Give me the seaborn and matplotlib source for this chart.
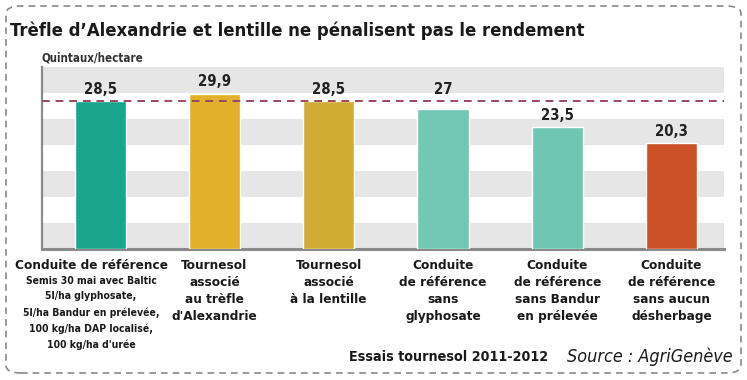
import matplotlib
matplotlib.use("Agg")
import matplotlib.pyplot as plt
import seaborn as sns
import pandas as pd
from matplotlib.patches import FancyBboxPatch
from matplotlib.transforms import blended_transform_factory

# ---- data ----
categories = [
    "Conduite de référence",
    "Tournesol\nassocié\nau trèfle\nd'Alexandrie",
    "Tournesol\nassocié\nà la lentille",
    "Conduite\nde référence\nsans\nglyphosate",
    "Conduite\nde référence\nsans Bandur\nen prélevée",
    "Conduite\nde référence\nsans aucun\ndésherbage",
]
first_detail = ("Semis 30 mai avec Baltic\n5l/ha glyphosate,\n5l/ha Bandur en prélevée,\n"
                "100 kg/ha DAP localisé,\n100 kg/ha d'urée")
values = [28.5, 29.9, 28.5, 27.0, 23.5, 20.3]
value_labels = ["28,5", "29,9", "28,5", "27", "23,5", "20,3"]
colors = ["#1aa58e", "#e2b02b", "#d1ac33", "#72c8b2", "#6ec6b3", "#cc5128"]
reference_value = 28.5
title = "Trèfle d’Alexandrie et lentille ne pénalisent pas le rendement"
ylabel = "Quintaux/hectare"
footer = "Essais tournesol 2011-2012"
source = "Source : AgriGenève"

sns.set_theme(style="white")
plt.rcParams['font.family'] = ['DejaVu Sans']
plt.rcParams['font.stretch'] = 'condensed'

W, H = 747, 380
fig = plt.figure(figsize=(W / 100, H / 100), dpi=100)
fig.patch.set_facecolor("white")
renderer = fig.canvas.get_renderer()


def fit_size(text, target_px, weight="bold", style="normal"):
    t = fig.text(0, 0, text, fontsize=10, fontweight=weight, fontstyle=style,
                 fontstretch="condensed")
    w = t.get_window_extent(renderer).width
    t.remove()
    return 10 * target_px / w


ax = fig.add_axes([42 / W, 1 - 249 / H, (724 - 42) / W, (249 - 67) / H])

df = pd.DataFrame({"cat": [str(i) for i in range(len(values))], "val": values})
sns.barplot(data=df, x="cat", y="val", hue="cat", palette=colors, legend=False,
            width=0.45, ax=ax, zorder=3, saturation=1)

# bands
for lo in range(0, 35, 10):
    ax.axhspan(lo, lo + 5, color="#e6e6e6", zorder=0, lw=0)

ax.set_ylim(0, 35)
ax.set_xlim(-0.51, 5.46)
ax.set_xticks([])
ax.set_yticks([])
ax.set_xlabel("")
ax.set_ylabel("")
for s in ["top", "right"]:
    ax.spines[s].set_visible(False)
ax.spines["left"].set_color("#8a8a8a")
ax.spines["left"].set_linewidth(1.6)
ax.spines["bottom"].set_color("#8a8a8a")
ax.spines["bottom"].set_linewidth(2.2)
ax.set_facecolor("white")

ax.axhline(reference_value, color="#9a4a5c", lw=1.4, ls=(0, (4, 3)), zorder=4)

val_fs = fit_size("28,5", 33)
for i, (v, lab) in enumerate(zip(values, value_labels)):
    y = v
    if v < reference_value and reference_value - v < 3:
        y = reference_value
    ax.annotate(lab, (i, y), xytext=(0, 3), textcoords="offset points",
                ha="center", va="bottom", fontsize=val_fs, fontweight="bold",
                color="#222222", zorder=5)

# category labels
cat_fs = fit_size("Conduite de référence", 152)
det_fs = fit_size("Semis 30 mai avec Baltic", 130)
tr = blended_transform_factory(ax.transData, fig.transFigure)
for i, c in enumerate(categories):
    xi = i - 0.08 if i == 0 else i
    ax.text(xi, 1 - 259 / H, c, transform=tr, ha="center", va="top",
            fontsize=cat_fs, fontweight="bold", color="#1a1a1a",
            linespacing=1.4, clip_on=False)
ax.text(-0.08, 1 - 276 / H, first_detail, transform=tr, ha="center", va="top",
        fontsize=det_fs, fontweight="bold", color="#1a1a1a", linespacing=1.68,
        clip_on=False)

fig.text(10 / W, 1 - 31 / H, title, ha="left", va="center",
         fontsize=fit_size(title, 573), fontweight="bold", color="#1a1a1a")
fig.text(42 / W, 1 - 58 / H, ylabel, ha="left", va="center",
         fontsize=fit_size(ylabel, 101), fontweight="bold", color="#333333")
fig.text(449 / W, 1 - 357 / H, footer, ha="center", va="center",
         fontsize=fit_size(footer, 200), fontweight="bold", color="#1a1a1a")
fig.text(733 / W, 1 - 357 / H, source, ha="right", va="center",
         fontsize=fit_size(source, 165, weight="normal", style="italic"),
         fontstyle="italic", color="#1a1a1a")

border = FancyBboxPatch((6 / W, 7 / H), (741 - 6) / W, (374 - 7) / H,
                        boxstyle="round,pad=0,rounding_size=0.02",
                        transform=fig.transFigure, fill=False,
                        edgecolor="#8a8a8a", lw=1.2, ls=(0, (4, 3)))
fig.patches.append(border)

fig.savefig("out.png", dpi=100, facecolor="white")
